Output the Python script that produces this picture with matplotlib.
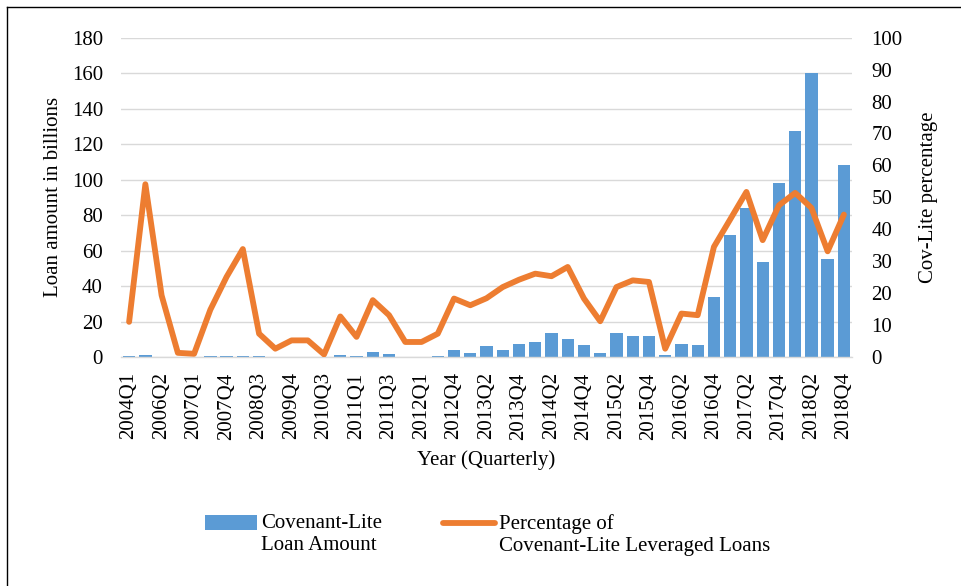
import matplotlib
matplotlib.use('Agg')
import matplotlib.pyplot as plt
from matplotlib.lines import Line2D

plt.rcParams['font.family'] = ['Liberation Serif', 'DejaVu Serif']

# quarters shown on the category axis (labels drawn every other one)
quarters = ['2004Q1', '2005Q4', '2006Q2', '2006Q4', '2007Q1', '2007Q2', '2007Q4', '2008Q1',
            '2008Q3', '2009Q2', '2009Q4', '2010Q1', '2010Q3', '2010Q4', '2011Q1', '2011Q2',
            '2011Q3', '2011Q4', '2012Q1', '2012Q3', '2012Q4', '2013Q1', '2013Q2', '2013Q3',
            '2013Q4', '2014Q1', '2014Q2', '2014Q3', '2014Q4', '2015Q1', '2015Q2', '2015Q3',
            '2015Q4', '2016Q1', '2016Q2', '2016Q3', '2016Q4', '2017Q1', '2017Q2', '2017Q3',
            '2017Q4', '2018Q1', '2018Q2', '2018Q3', '2018Q4']

# covenant-lite loan amount, billions
loan_amount = [0.3, 1.0, 0.2, 0.1, 0.2, 0.4, 0.5, 0.8, 0.3, 0.1, 0.1, 0.1, 0.1, 0.9, 0.4,
               2.9, 1.5, 0.2, 0.2, 0.6, 3.8, 2.4, 6.4, 4.1, 7.1, 8.7, 13.4, 10.3, 6.6,
               2.1, 13.5, 11.8, 11.8, 0.9, 7.1, 6.6, 33.7, 68.8, 83.9, 53.4, 97.8, 127.5,
               160.2, 55.5, 108.0]

# percentage of cov-lite leveraged loans
cov_lite_pct = [11.0, 54.1, 19.3, 1.3, 1.0, 14.8, 25.1, 33.8, 7.3, 2.6, 5.2, 5.2, 0.8,
                12.7, 6.3, 17.8, 13.1, 4.7, 4.7, 7.3, 18.3, 16.2, 18.4, 21.9, 24.2, 26.1,
                25.3, 28.2, 18.3, 11.2, 21.9, 24.0, 23.5, 2.6, 13.6, 13.1, 34.5, 43.1,
                51.7, 36.6, 47.5, 51.4, 46.7, 33.1, 44.6]

blue = '#5B9BD5'
orange = '#ED7D31'
grid = '#D9D9D9'
fs = 15

fig = plt.figure(figsize=(9.61, 5.86), dpi=100)
ax = fig.add_axes([0.1259, 0.3908, 0.7607, 0.5449])
ax2 = ax.twinx()

x = list(range(len(quarters)))
bars = ax.bar(x, loan_amount, width=0.76, color=blue, zorder=2,
              label='Covenant-Lite\nLoan Amount')
line, = ax2.plot(x, cov_lite_pct, color=orange, linewidth=4.2,
                 solid_capstyle='round', solid_joinstyle='round', zorder=3,
                 label='Percentage of\nCovenant-Lite Leveraged Loans')

ax.set_xlim(-0.5, len(quarters) - 0.5)
ax.set_ylim(0, 180)
ax.set_yticks(range(0, 181, 20))
ax2.set_ylim(0, 100)
ax2.set_yticks(range(0, 101, 10))
ax.set_xticks(x[::2])
ax.set_xticklabels(quarters[::2], rotation=90, fontsize=fs)

ax.yaxis.grid(True, color=grid, linewidth=1.0, zorder=0)
ax.set_axisbelow(True)
for a in (ax, ax2):
    for s in a.spines.values():
        s.set_visible(False)
    a.tick_params(length=0, labelsize=fs)
ax.spines['bottom'].set_visible(True)
ax.spines['bottom'].set_color(grid)
ax.spines['bottom'].set_linewidth(1.0)
ax.tick_params(axis='y', pad=13)
ax2.tick_params(axis='y', pad=14)
ax.tick_params(axis='x', pad=11)

ax.set_ylabel('Loan amount in billions', fontsize=fs, labelpad=6)
ax2.set_ylabel('Cov-Lite percentage', fontsize=fs, labelpad=12)
ax.set_xlabel('Year (Quarterly)', fontsize=fs, labelpad=8)

leg = fig.legend(handles=[bars, line], loc='upper left', bbox_to_anchor=(0.194, 0.155),
                 ncol=2, frameon=False, fontsize=fs, handlelength=2.5, handletextpad=0.2,
                 columnspacing=2.9, labelspacing=0.3)
# Excel puts the legend key next to the first text line, not the middle
shift = 8.6  # points, inside the legend's drawing area
for h in leg.legend_handles:
    if isinstance(h, Line2D):
        h.set_ydata([y + shift for y in h.get_ydata()])
    else:
        h.set_y(h.get_y() + shift)

# outer frame (top and left edges)
fig.add_artist(Line2D([0.0068, 1.0], [0.988, 0.988], color='black', linewidth=1.0,
                      transform=fig.transFigure))
fig.add_artist(Line2D([0.0068, 0.0068], [0.0, 0.988], color='black', linewidth=1.0,
                      transform=fig.transFigure))

fig.savefig('out.png', dpi=100)
